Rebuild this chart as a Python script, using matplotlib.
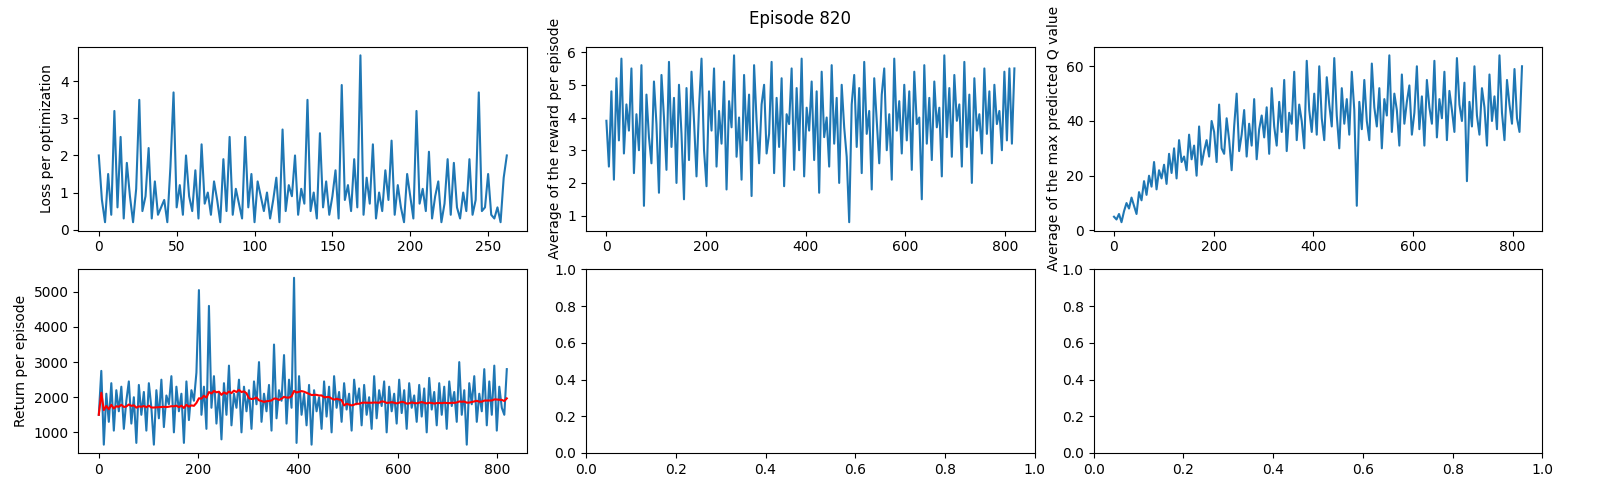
import matplotlib
matplotlib.use("Agg")
import matplotlib.pyplot as plt
import numpy as np
import pandas as pd

loss = [2.0, 0.8, 0.2, 1.5, 0.4, 3.2, 0.6, 2.5, 0.3, 1.8, 0.9, 0.2, 1.1, 3.5, 0.5, 0.9, 2.2, 0.3, 1.3, 0.4,
        0.6, 0.8, 0.2, 1.7, 3.7, 0.6, 1.2, 0.4, 2.0, 0.9, 0.5, 1.6, 0.3, 2.3, 0.7, 1.0, 0.4, 1.3, 0.8, 0.2,
        1.9, 0.5, 2.5, 0.4, 1.1, 0.7, 0.3, 2.5, 0.6, 1.5, 0.2, 1.3, 0.9, 0.5, 1.0, 0.3, 0.8, 1.4, 0.2, 2.7,
        0.5, 1.2, 0.9, 2.0, 0.4, 1.1, 0.7, 3.5, 0.5, 1.0, 0.3, 2.6, 0.6, 1.3, 0.4, 0.9, 1.6, 0.3, 3.9, 0.8,
        1.2, 0.5, 1.9, 0.6, 4.7, 0.4, 1.4, 0.7, 2.3, 0.3, 1.0, 0.5, 1.6, 0.8, 2.4, 0.4, 1.2, 0.6, 0.2, 1.5,
        0.9, 0.3, 3.2, 0.7, 1.1, 0.5, 2.1, 0.3, 0.9, 1.3, 0.2, 0.7, 1.9, 0.4, 1.8, 0.6, 0.3, 1.0, 0.5, 1.9,
        0.4, 0.8, 3.7, 0.5, 0.6, 1.5, 0.4, 0.3, 0.6, 0.2, 1.4, 2.0]

reward = [3.9, 2.5, 4.8, 2.1, 5.2, 3.3, 5.8, 2.9, 4.4, 3.6, 5.5, 2.3, 4.1, 3.0, 5.6, 1.3, 4.7, 3.4, 2.6, 5.1,
          3.8, 1.7, 5.3, 4.0, 2.4, 5.7, 3.1, 4.6, 2.0, 5.0, 3.5, 1.5, 4.9, 2.7, 5.4, 3.9, 2.2, 4.3, 5.8, 3.0,
          1.9, 4.8, 3.6, 5.5, 2.5, 4.2, 3.2, 5.1, 1.8, 4.5, 3.7, 5.9, 2.8, 4.0, 2.1, 5.3, 3.3, 4.7, 1.6, 5.6,
          3.9, 2.6, 4.4, 5.0, 2.9, 3.5, 5.7, 2.3, 4.6, 3.1, 5.2, 1.9, 4.1, 3.8, 5.5, 2.4, 4.9, 3.0, 5.8, 2.2,
          4.3, 3.6, 5.1, 2.7, 4.8, 1.7, 5.4, 3.4, 4.0, 2.5, 5.6, 3.2, 4.6, 2.0, 5.0, 3.7, 2.8, 0.8, 4.4, 5.3,
          3.1, 4.9, 2.3, 5.7, 3.5, 4.2, 1.8, 5.2, 3.9, 2.6, 4.7, 5.5, 3.0, 4.1, 2.1, 5.8, 3.6, 4.5, 2.9, 5.0,
          3.3, 4.8, 2.4, 5.4, 3.8, 4.0, 1.5, 5.6, 3.2, 4.6, 2.7, 5.1, 3.7, 4.3, 2.2, 5.9, 3.4, 4.9, 2.8, 5.3,
          3.9, 4.4, 2.5, 5.7, 3.1, 4.7, 2.0, 5.2, 3.6, 4.1, 2.9, 5.5, 3.5, 4.8, 2.6, 5.0, 3.8, 4.2, 3.0, 5.4,
          3.3, 5.5, 3.2, 5.5]

qvalue = [5, 4, 6, 3, 7, 10, 8, 12, 9, 6, 14, 11, 18, 13, 20, 16, 25, 15, 22, 19,
          24, 17, 28, 21, 30, 19, 33, 25, 27, 22, 35, 26, 31, 20, 38, 24, 29, 33, 27, 40,
          36, 25, 46, 30, 28, 41, 33, 22, 38, 50, 29, 35, 44, 27, 39, 31, 48, 26, 37, 42,
          34, 45, 28, 52, 38, 31, 47, 36, 55, 29, 43, 39, 58, 33, 46, 40, 30, 62, 44, 36,
          50, 35, 60, 41, 33, 56, 46, 38, 63, 42, 30, 52, 39, 48, 35, 58, 44, 9, 47, 37,
          55, 40, 33, 61, 45, 38, 52, 30, 48, 42, 64, 36, 50, 44, 31, 57, 39, 47, 53, 35,
          43, 60, 37, 49, 31, 55, 45, 39, 62, 34, 48, 41, 58, 33, 51, 44, 36, 63, 46, 40,
          54, 18, 47, 38, 60, 42, 35, 52, 45, 31, 57, 40, 49, 37, 64, 43, 33, 55, 46, 39,
          59, 41, 36, 60]

returns = [1500, 2750, 650, 2100, 1300, 2400, 1050, 2200, 1600, 2300, 1100, 1900, 2450, 1250, 2000, 700, 2350, 1500, 2150, 1050,
           2400, 1700, 650, 2200, 1400, 2500, 1150, 2050, 1800, 2600, 1000, 2300, 1600, 2100, 700, 2450, 1350, 2200, 1900, 2700,
           5050, 1500, 2300, 1100, 4600, 1700, 2600, 1250, 2150, 800, 2400, 1500, 2900, 1200, 2100, 1700, 2500, 1000, 2300, 1600,
           2200, 1100, 2450, 1800, 3000, 1300, 2100, 1600, 2350, 1050, 3500, 1400, 2200, 1900, 3200, 1250, 2500, 1700, 5400, 700,
           2600, 1500, 2100, 1200, 2350, 650, 2200, 1600, 2000, 1100, 2450, 1450, 2300, 1000, 2600, 1700, 2150, 1300, 2400, 1650,
           2100, 1050, 2500, 1800, 2250, 1200, 2350, 1500, 2000, 1100, 2600, 1400, 2200, 1750, 2450, 1000, 2300, 1600, 2100, 1250,
           2500, 1550, 2200, 1100, 2400, 1700, 2050, 1300, 2350, 1450, 2250, 1000, 2550, 1650, 2150, 1200, 2400, 1500, 2300, 1100,
           2450, 1750, 2150, 1300, 3000, 1500, 2200, 650, 2400, 1800, 2600, 1300, 2100, 1600, 2800, 1200, 2450, 1500, 2900, 1050,
           2300, 1700, 1500, 2800]

episodes = np.linspace(0, 819, len(reward))
loss_steps = np.linspace(0, 262, len(loss))
# moving average over ~100 episodes
avg_return = pd.Series(returns).rolling(20, min_periods=1).mean()

fig, axes = plt.subplots(2, 3, figsize=(16, 5), dpi=100)
fig.subplots_adjust(left=0.049, right=0.964, top=0.906, bottom=0.094, wspace=0.131, hspace=0.212)
fig.suptitle("Episode 820")

axes[0, 0].plot(loss_steps, loss)
axes[0, 0].set_ylabel("Loss per optimization")

axes[0, 1].plot(episodes, reward)
axes[0, 1].set_ylabel("Average of the reward per episode")

axes[0, 2].plot(episodes, qvalue)
axes[0, 2].set_ylabel("Average of the max predicted Q value")

axes[1, 0].plot(episodes, returns)
axes[1, 0].plot(episodes, avg_return, color="red")
axes[1, 0].set_ylabel("Return per episode")

fig.savefig("out.png")
